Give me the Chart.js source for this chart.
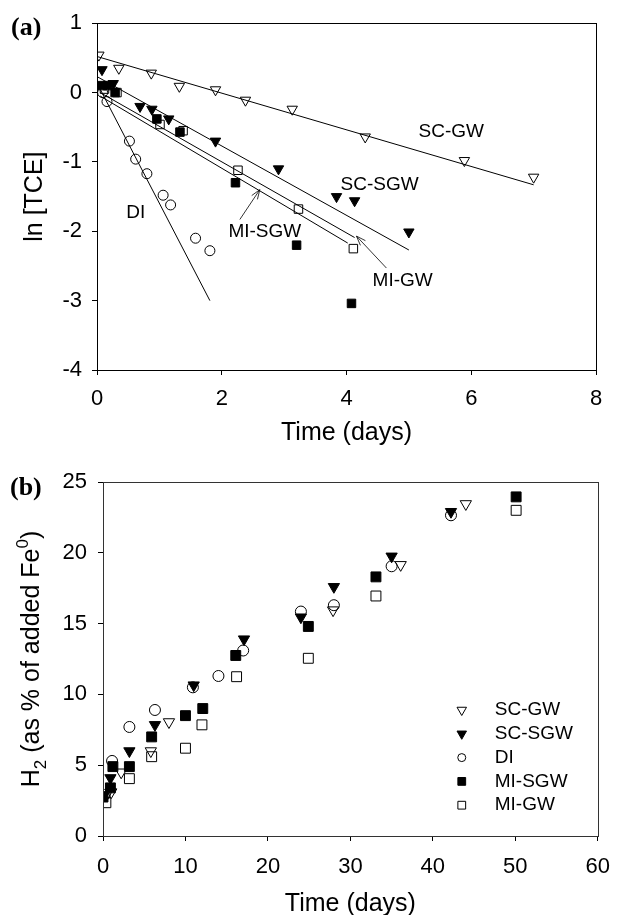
<!DOCTYPE html>
<html>
<head>
<meta charset="utf-8">
<script src="https://cdn.jsdelivr.net/npm/chart.js@4.4.1/dist/chart.umd.min.js"></script>
<style>
body { margin: 0; background: #fff; }
#wrap { position: relative; width: 623px; height: 915px; }
canvas { position: absolute; left: 0; }
#chartA { top: 0; }
#chartB { top: 455px; }
.panel { position: absolute; font-family: "Liberation Serif", "Times New Roman", serif; font-weight: bold; font-size: 26px; line-height: 30px; }
</style>
</head>
<body>
<div id="wrap">
  <canvas id="chartA" width="623" height="455"></canvas>
  <canvas id="chartB" width="623" height="460"></canvas>
  <div class="panel" style="left:11px; top:12px;">(a)</div>
  <div class="panel" style="left:10px; top:472px;">(b)</div>
</div>
<script>
// panel (a): ln[TCE] vs time (days)
const scgwT  = [0.03, 0.35, 0.87, 1.32, 1.9, 2.38, 3.13, 4.3, 5.89, 7.0];
const scgwLn = [0.54, 0.35, 0.28, 0.09, 0.04, -0.11, -0.24, -0.64, -0.98, -1.22];
const scsgwT  = [0.08, 0.26, 0.69, 0.88, 1.15, 1.9, 2.91, 3.84, 4.13, 5.0];
const scsgwLn = [0.33, 0.13, -0.2, -0.24, -0.38, -0.7, -1.1, -1.5, -1.56, -2.01];
const diT  = [0.09, 0.16, 0.52, 0.62, 0.8, 1.06, 1.18, 1.58, 1.81];
const diLn = [0.0, -0.13, -0.7, -0.96, -1.17, -1.48, -1.62, -2.1, -2.28];
const misgwT  = [0.08, 0.17, 0.29, 0.96, 1.33, 2.22, 3.2, 4.08];
const misgwLn = [0.1, 0.1, 0.0, -0.38, -0.57, -1.3, -2.2, -3.04];
const migwT  = [0.12, 0.32, 1.01, 1.38, 2.26, 3.23, 4.11];
const migwLn = [0.05, 0.0, -0.46, -0.55, -1.12, -1.68, -2.25];

// fitted lines (start / end)
const fitScgwT = [0, 7.0],     fitScgwLn = [0.52, -1.33];
const fitScsgwT = [0, 5.0],    fitScsgwLn = [0.23, -2.27];
const fitDiT = [0.05, 1.81],   fitDiLn = [0.05, -3.0];
const fitMisgwT = [0.05, 4.02], fitMisgwLn = [-0.05, -2.17];
const fitMigwT = [0.05, 4.13],  fitMigwLn = [0.0, -2.09];

// panel (b): H2 (% of added Fe0) vs time (days)
const scgwDays = [0.4, 1.0, 2.2, 5.8, 8.0, 27.9, 36.1, 44.0];
const scgwH2   = [2.9, 3.1, 4.5, 6.0, 8.05, 15.95, 19.15, 23.45];
const scsgwDays = [0.0, 0.9, 3.2, 6.3, 11.0, 17.1, 24.0, 28.0, 35.0, 42.2];
const scsgwH2   = [2.8, 4.1, 6.0, 7.85, 10.65, 13.9, 15.45, 17.6, 19.75, 22.9];
const diDays = [0.2, 1.1, 3.2, 6.3, 10.9, 14.0, 17.0, 24.0, 28.0, 35.0, 42.2];
const diH2   = [2.9, 5.3, 7.7, 8.9, 10.5, 11.3, 13.1, 15.85, 16.3, 19.05, 22.65];
const misgwDays = [0.0, 0.9, 1.2, 3.2, 5.9, 10.0, 12.1, 16.1, 24.9, 33.1, 50.1];
const misgwH2   = [2.75, 3.4, 4.9, 4.9, 7.0, 8.5, 9.0, 12.75, 14.8, 18.3, 23.95];
const migwDays = [0.35, 3.2, 5.9, 10.0, 12.0, 16.2, 24.9, 33.1, 50.1];
const migwH2   = [2.35, 4.05, 5.6, 6.2, 7.85, 11.25, 12.55, 16.95, 23.0];

const seriesNames = ["SC-GW", "SC-SGW", "DI", "MI-SGW", "MI-GW"];

// text labels and arrows in panel (a), in data units
const labelsA = [
  { text: "SC-GW", x: 5.68, y: -0.57 },
  { text: "SC-SGW", x: 4.53, y: -1.33 },
  { text: "DI", x: 0.62, y: -1.74 },
  { text: "MI-SGW", x: 2.69, y: -2.0 },
  { text: "MI-GW", x: 4.9, y: -2.71 }
];
const arrowsA = [
  { from: [2.29, -1.83], to: [2.61, -1.4] },
  { from: [4.64, -2.53], to: [4.16, -2.07] }
];

const FONT = "'Liberation Sans', Arial, sans-serif";

function pts(xs, ys) {
  return xs.map((x, i) => ({ x: x, y: ys[i] }));
}

// marker looks: open/filled triangle (down), circle, filled/open square
const markers = [
  { style: "triangle", rot: 180, fill: "rgba(0,0,0,0)" },
  { style: "triangle", rot: 180, fill: "#000" },
  { style: "circle", rot: 0, fill: "rgba(0,0,0,0)" },
  { style: "rect", rot: 0, fill: "#000" },
  { style: "rect", rot: 0, fill: "rgba(0,0,0,0)" }
];
const radiusA = { triangle: 6, circle: 5, rect: 6 };
const radiusB = { triangle: 6.5, circle: 5.5, rect: 7 };

function scatterSet(label, data, k, radii) {
  const m = markers[k];
  return {
    label: label,
    data: data,
    showLine: false,
    pointStyle: m.style,
    rotation: m.rot,
    pointRadius: radii[m.style],
    pointBackgroundColor: m.fill,
    pointBorderColor: "#000",
    pointBorderWidth: 1
  };
}

function fitSet(data) {
  return {
    label: "",
    data: data,
    showLine: true,
    pointRadius: 0,
    borderColor: "#000",
    borderWidth: 1,
    fill: false
  };
}

// frame around the plot area
const framePlugin = {
  id: "frame",
  afterDatasetsDraw(chart, args, opts) {
    const a = chart.chartArea;
    const ctx = chart.ctx;
    ctx.save();
    ctx.strokeStyle = opts.color || "#000";
    ctx.lineWidth = 1;
    ctx.strokeRect(Math.round(a.left) + 0.5, Math.round(a.top) + 0.5,
      Math.round(a.right - a.left), Math.round(a.bottom - a.top));
    ctx.restore();
  }
};

function drawSymbol(ctx, k, x, y, r) {
  const m = markers[k];
  ctx.beginPath();
  if (m.style === "triangle") {
    ctx.moveTo(x, y + r);
    ctx.lineTo(x - r * 0.866, y - r / 2);
    ctx.lineTo(x + r * 0.866, y - r / 2);
    ctx.closePath();
  } else if (m.style === "circle") {
    ctx.arc(x, y, r, 0, Math.PI * 2);
  } else {
    const s = r * Math.SQRT1_2;
    ctx.rect(x - s, y - s, 2 * s, 2 * s);
  }
  ctx.fillStyle = m.fill;
  ctx.fill();
  ctx.strokeStyle = "#000";
  ctx.lineWidth = 1;
  ctx.stroke();
}

// labels + arrows for panel (a)
const notesPlugin = {
  id: "notes",
  afterDatasetsDraw(chart) {
    const ctx = chart.ctx;
    const sx = chart.scales.x, sy = chart.scales.y;
    ctx.save();
    ctx.fillStyle = "#000";
    ctx.font = "19px " + FONT;
    ctx.textAlign = "center";
    ctx.textBaseline = "middle";
    labelsA.forEach(l => {
      ctx.fillText(l.text, sx.getPixelForValue(l.x), sy.getPixelForValue(l.y));
    });
    ctx.strokeStyle = "#000";
    ctx.lineWidth = 0.8;
    arrowsA.forEach(ar => {
      const x0 = sx.getPixelForValue(ar.from[0]), y0 = sy.getPixelForValue(ar.from[1]);
      const x1 = sx.getPixelForValue(ar.to[0]), y1 = sy.getPixelForValue(ar.to[1]);
      const ang = Math.atan2(y1 - y0, x1 - x0);
      ctx.beginPath();
      ctx.moveTo(x0, y0);
      ctx.lineTo(x1, y1);
      ctx.moveTo(x1 - 10 * Math.cos(ang - 0.35), y1 - 10 * Math.sin(ang - 0.35));
      ctx.lineTo(x1, y1);
      ctx.lineTo(x1 - 10 * Math.cos(ang + 0.35), y1 - 10 * Math.sin(ang + 0.35));
      ctx.stroke();
    });
    ctx.restore();
  }
};

// legend inside panel (b)
const legendPlugin = {
  id: "boxLegend",
  afterDatasetsDraw(chart) {
    const ctx = chart.ctx;
    const a = chart.chartArea;
    ctx.save();
    ctx.font = "19px " + FONT;
    ctx.textAlign = "left";
    ctx.textBaseline = "middle";
    seriesNames.forEach((name, i) => {
      const y = a.bottom - 126 + i * 23.8;
      const r = markers[i].style === "circle" ? 4 : 5.5;
      drawSymbol(ctx, i, a.right - 136, y, r);
      ctx.fillStyle = "#000";
      ctx.fillText(name, a.right - 103, y);
    });
    ctx.restore();
  }
};

// y title of panel (b) with sub/superscript
const h2TitlePlugin = {
  id: "h2Title",
  afterDraw(chart) {
    const ctx = chart.ctx;
    const a = chart.chartArea;
    const parts = [
      { t: "H", size: 25, dy: 0 },
      { t: "2", size: 17, dy: 7 },
      { t: " (as % of added Fe", size: 25, dy: 0 },
      { t: "0", size: 17, dy: -11 },
      { t: ")", size: 25, dy: 0 }
    ];
    ctx.save();
    ctx.fillStyle = "#000";
    ctx.textBaseline = "alphabetic";
    let total = 0;
    parts.forEach(p => { ctx.font = p.size + "px " + FONT; p.w = ctx.measureText(p.t).width; total += p.w; });
    ctx.translate(39, (a.top + a.bottom) / 2);
    ctx.rotate(-Math.PI / 2);
    let x = -total / 2;
    parts.forEach(p => {
      ctx.font = p.size + "px " + FONT;
      ctx.fillText(p.t, x, p.dy);
      x += p.w;
    });
    ctx.restore();
  }
};

function scale(min, max, step, padding, fitSize, horizontal, title) {
  const s = {
    type: "linear",
    min: min,
    max: max,
    ticks: {
      stepSize: step,
      padding: padding,
      color: "#000",
      font: { family: FONT, size: 22 }
    },
    grid: {
      drawOnChartArea: false,
      drawTicks: true,
      tickLength: 5,
      color: "#000"
    },
    border: { display: false },
    afterFit(sc) {
      if (horizontal) sc.height = fitSize; else sc.width = fitSize;
    }
  };
  if (title) s.title = title;
  return s;
}

Chart.defaults.font.family = FONT;
Chart.defaults.color = "#000";

new Chart(document.getElementById("chartA"), {
  type: "scatter",
  data: {
    datasets: [
      scatterSet("SC-GW", pts(scgwT, scgwLn), 0, radiusA),
      scatterSet("SC-SGW", pts(scsgwT, scsgwLn), 1, radiusA),
      scatterSet("DI", pts(diT, diLn), 2, radiusA),
      scatterSet("MI-SGW", pts(misgwT, misgwLn), 3, radiusA),
      scatterSet("MI-GW", pts(migwT, migwLn), 4, radiusA),
      fitSet(pts(fitScgwT, fitScgwLn)),
      fitSet(pts(fitScsgwT, fitScsgwLn)),
      fitSet(pts(fitDiT, fitDiLn)),
      fitSet(pts(fitMisgwT, fitMisgwLn)),
      fitSet(pts(fitMigwT, fitMigwLn))
    ]
  },
  options: {
    responsive: false,
    devicePixelRatio: 1,
    animation: false,
    events: [],
    layout: { padding: { top: 21, right: 27, left: 0, bottom: 0 } },
    plugins: { legend: { display: false }, tooltip: { enabled: false }, frame: { color: "#000" } },
    scales: {
      x: scale(0, 8, 2, 11, 85, true, {
        display: true, text: "Time (days)", color: "#000",
        font: { family: FONT, size: 25 }, padding: { top: 0, bottom: 7 }
      }),
      y: scale(-4, 1, 1, 10, 97, false, {
        display: true, text: "ln [TCE]", color: "#000",
        font: { family: FONT, size: 25 }, padding: { top: 20, bottom: 0 }
      })
    }
  },
  plugins: [framePlugin, notesPlugin]
});

new Chart(document.getElementById("chartB"), {
  type: "scatter",
  data: {
    datasets: [
      scatterSet("SC-GW", pts(scgwDays, scgwH2), 0, radiusB),
      scatterSet("SC-SGW", pts(scsgwDays, scsgwH2), 1, radiusB),
      scatterSet("DI", pts(diDays, diH2), 2, radiusB),
      scatterSet("MI-SGW", pts(misgwDays, misgwH2), 3, radiusB),
      scatterSet("MI-GW", pts(migwDays, migwH2), 4, radiusB)
    ]
  },
  options: {
    responsive: false,
    devicePixelRatio: 1,
    animation: false,
    events: [],
    layout: { padding: { top: 27, right: 15, left: 0, bottom: 0 } },
    plugins: { legend: { display: false }, tooltip: { enabled: false }, frame: { color: "#333" } },
    scales: {
      x: scale(0, 60, 10, 13, 79, true, {
        display: true, text: "Time (days)", color: "#000",
        font: { family: FONT, size: 25 }, padding: { top: 0, bottom: -4 }
      }),
      y: scale(0, 25, 5, 11, 103, false, null)
    }
  },
  plugins: [framePlugin, legendPlugin, h2TitlePlugin]
});
</script>
</body>
</html>
